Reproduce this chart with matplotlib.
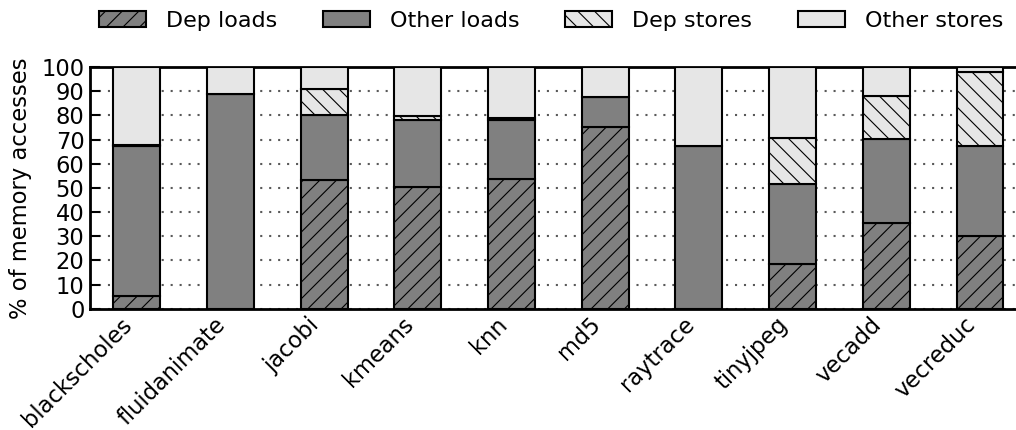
import matplotlib
matplotlib.use("Agg")
import matplotlib.pyplot as plt
import numpy as np

benchmarks = ["blackscholes", "fluidanimate", "jacobi", "kmeans", "knn",
              "md5", "raytrace", "tinyjpeg", "vecadd", "vecreduc"]
dep_loads = [5.2, 0.0, 53.3, 50.4, 53.7, 75.4, 0.0, 18.6, 35.4, 30.1]
other_loads = [62.1, 88.7, 26.8, 27.8, 24.6, 12.2, 67.2, 33.1, 34.9, 37.4]
dep_stores = [0.5, 0.0, 10.9, 1.6, 0.6, 0.0, 0.0, 18.8, 17.7, 30.5]
other_stores = [100 - a - b - c for a, b, c in zip(dep_loads, other_loads, dep_stores)]

series = [
    ("Dep loads", dep_loads, "0.5", "//"),
    ("Other loads", other_loads, "0.5", ""),
    ("Dep stores", dep_stores, "0.9", "\\\\"),
    ("Other stores", other_stores, "0.9", ""),
]

plt.rcParams["font.size"] = 16.3
plt.rcParams["hatch.linewidth"] = 0.8

fig = plt.figure(figsize=(10.16, 4.30), dpi=100)
# axes run a little past the right edge of the canvas
ax = fig.add_axes([0.0886, 0.282, 0.922, 0.562])

x = np.arange(len(benchmarks))
bottom = np.zeros(len(benchmarks))
for label, vals, color, hatch in series:
    ax.bar(x, vals, width=0.5, bottom=bottom, color=color, hatch=hatch,
           edgecolor="black", linewidth=1.5, label=label, zorder=3)
    bottom += np.array(vals)

ax.set_xlim(-0.5, len(benchmarks) - 0.5)
ax.set_ylim(0, 100)
ax.set_yticks(np.arange(0, 101, 10))
ax.yaxis.grid(True, linestyle=(0, (1, 3.3)), color="0.35", linewidth=1.5, zorder=0)
ax.set_axisbelow(True)
ax.set_ylabel("% of memory accesses", fontsize=16.3, labelpad=7)
ax.set_xticks(x)
ax.set_xticklabels(benchmarks, rotation=45, ha="right")
ax.tick_params(axis="y", direction="in", length=7, width=1.5, pad=4)
ax.tick_params(axis="x", length=0, pad=3)
for sp in ax.spines.values():
    sp.set_linewidth(2)

fig.legend(*ax.get_legend_handles_labels(), loc="upper left",
           bbox_to_anchor=(0.0974, 0.975), ncol=4, frameon=False,
           fontsize=16.0, handlelength=2.1, handleheight=0.7,
           columnspacing=2.07, handletextpad=0.9,
           borderaxespad=0, borderpad=0)

fig.savefig("out.png", dpi=100)
